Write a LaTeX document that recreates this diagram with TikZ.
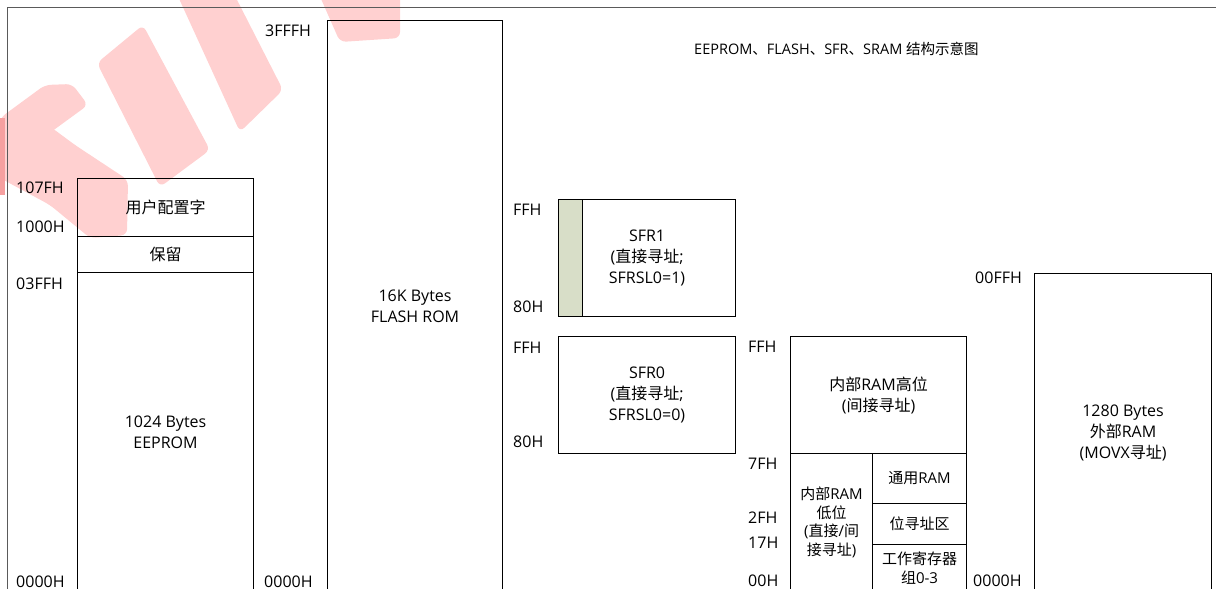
\documentclass[tikz,border=0pt]{standalone}
\usepackage{fontspec}
\setmainfont{Open Sans}
\newfontfamily\cjk{Noto Sans CJK SC}
\newcommand\zh[1]{{\cjk #1}}
\definecolor{wm}{RGB}{255,208,208}
\definecolor{wmd}{RGB}{246,160,160}
\definecolor{stripgreen}{RGB}{216,222,200}
\definecolor{framegray}{RGB}{90,90,90}
\tikzset{
 box/.style={draw=black, line width=1.1pt, anchor=north west, inner sep=0pt, align=center, font=\fontsize{16}{21}\selectfont},
 addr/.style={anchor=base west, inner sep=0pt, font=\fontsize{16}{19}\selectfont},
 wmark/.style={fill=wm, draw=none, rounded corners=6pt},
}
\begin{document}
\begin{tikzpicture}[x=1pt,y=-1pt]
\useasboundingbox (0,0) rectangle (1216,589);
% watermark
\fill[wmark] (97,63) -- (143,25) -- (210,150) -- (160,187) -- cycle;
\fill[wmark] (176,-8) -- (233,-8) -- (283,90) -- (240,132) -- cycle;
\fill[wmark] (318,-8) -- (400,-8) -- (400,38) -- (340,42) -- cycle;
\fill[wmark] (0,135) -- (25,108) -- (75,145) -- (128,180) -- (127,235) -- (90,238) -- (50,205) -- (0,178) -- cycle;
\fill[wmark] (0,118) -- (45,85) -- (72,84) -- (88,105) -- (40,140) -- (0,150) -- cycle;
\fill[wmd] (-5,118) -- (5,118) -- (5,195) -- (-5,195) -- cycle;
% frame
\draw[framegray, line width=0.9pt] (7,600) -- (7,7) -- (1225,7);
% title
\node[anchor=base west, inner sep=0pt, font=\fontsize{14.5}{18}\selectfont] (title) at (694,54) {EEPROM\zh{、}FLASH\zh{、}SFR\zh{、}SRAM \zh{结构示意图}};
% EEPROM
\node[box, minimum width=176pt, minimum height=58pt] (cfg) at (77,178) {\zh{用户配置字}};
\node[box, minimum width=176pt, minimum height=36pt] (res) at (77,236) {\zh{保留}};
\node[box, minimum width=176pt, minimum height=319pt] (eep) at (77,272) {1024 Bytes\\EEPROM};
\node[addr] (a107) at (16,193) {107FH};
\node[addr] (a1000) at (16,232) {1000H};
\node[addr] (a03ff) at (16,289) {03FFH};
\node[addr] (a0e) at (16,587) {0000H};
% FLASH
\node[box, minimum width=175pt, minimum height=571pt] (flash) at (327,20) {16K Bytes\\FLASH ROM};
\node[addr] (a3fff) at (265,36) {3FFFH};
\node[addr] (a0f) at (264,587) {0000H};
% SFR1
\node[box, fill=stripgreen, minimum width=24pt, minimum height=117pt] (strip) at (558,199) {};
\node[box, minimum width=177pt, minimum height=117pt] (sfr1) at (558,199) {SFR1\\(\zh{直接寻址};\\SFRSL0=1)};
\node[addr] (s1h) at (513,215) {FFH};
\node[addr] (s1l) at (513,312) {80H};
% SFR0
\node[box, minimum width=177pt, minimum height=117pt] (sfr0) at (558,336) {SFR0\\(\zh{直接寻址};\\SFRSL0=0)};
\node[addr] (s0h) at (513,353) {FFH};
\node[addr] (s0l) at (513,447) {80H};
% internal RAM
\node[box, minimum width=176pt, minimum height=117pt] (ramh) at (790,336) {\zh{内部}RAM\zh{高位}\\(\zh{间接寻址})};
\node[box, minimum width=82pt, minimum height=138pt, font=\fontsize{15}{18.5}\selectfont] (raml) at (790,453) {\zh{内部}RAM\\\zh{低位}\\(\zh{直接}/\zh{间}\\\zh{接寻址})};
\node[box, minimum width=94pt, minimum height=50pt, font=\fontsize{15}{19}\selectfont] (gen) at (872,453) {\zh{通用}RAM};
\node[box, minimum width=94pt, minimum height=41pt, font=\fontsize{15}{19}\selectfont] (bit) at (872,503) {\zh{位寻址区}};
\node[box, minimum width=94pt, minimum height=47pt, font=\fontsize{15}{19}\selectfont] (work) at (872,544) {\zh{工作寄存器}\\\zh{组}0-3};
\node[addr] (rff) at (748,352) {FFH};
\node[addr] (r7f) at (748,469) {7FH};
\node[addr] (r2f) at (748,523) {2FH};
\node[addr] (r17) at (748,548) {17H};
\node[addr] (r00) at (748,586) {00H};
% external RAM
\node[box, minimum width=177pt, minimum height=318pt] (ext) at (1034,273) {1280 Bytes\\\zh{外部}RAM\\(MOVX\zh{寻址})};
\node[addr] (eff) at (975,283) {00FFH};
\node[addr] (e00) at (973,586) {0000H};
\end{tikzpicture}
\end{document}
